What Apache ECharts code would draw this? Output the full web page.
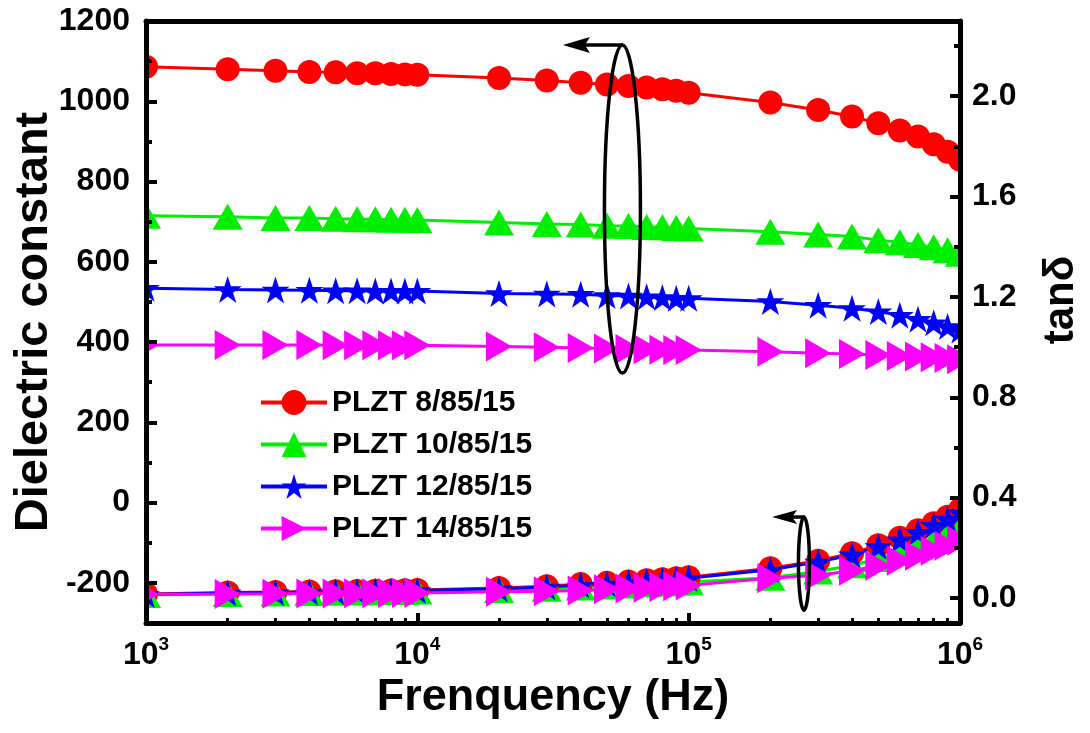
<!DOCTYPE html>
<html><head><meta charset="utf-8">
<script src="https://cdn.jsdelivr.net/npm/echarts@6/dist/echarts.min.js"></script>
<style>html,body{margin:0;padding:0;background:#fff}#c{width:1090px;height:733px}</style>
</head><body><div id="c"></div>
<script>
// ---------- data ----------
const freqs = [1e3,2e3,3e3,4e3,5e3,6e3,7e3,8e3,9e3,1e4,2e4,3e4,4e4,5e4,6e4,7e4,8e4,9e4,1e5,2e5,3e5,4e5,5e5,6e5,7e5,8e5,9e5,1e6];
const seriesNames = ['PLZT 8/85/15','PLZT 10/85/15','PLZT 12/85/15','PLZT 14/85/15'];
const eps8  = [1086,1080,1076,1073,1072,1070,1070,1068,1067,1066,1058,1052,1046,1042,1038,1034,1030,1026,1021,997,978,962,945,927,912,893,874,854];
const eps10 = [715,712,709,709,707,706,706,705,705,704,698,694,693,690,689,687,686,684,683,675,668,663,654,649,642,636,629,620];
const eps12 = [534,531,530,529,528,528,527,527,527,527,521,520,519,516,515,513,511,509,509,501,492,484,476,467,457,448,439,430];
const eps14 = [393,393,393,393,392,392,392,392,392,392,389,387,385,384,383,382,381,380,380,376,372,370,368,365,364,362,360,357];
const tan8  = [0.016,0.022,0.024,0.026,0.027,0.028,0.029,0.030,0.031,0.032,0.040,0.047,0.055,0.060,0.065,0.070,0.074,0.078,0.082,0.118,0.148,0.178,0.210,0.240,0.270,0.298,0.324,0.352];
const tan10 = [0.012,0.016,0.018,0.020,0.021,0.022,0.023,0.024,0.025,0.026,0.032,0.037,0.042,0.046,0.050,0.054,0.057,0.060,0.063,0.080,0.105,0.130,0.155,0.180,0.205,0.228,0.252,0.276];
const tan12 = [0.014,0.020,0.022,0.024,0.025,0.026,0.027,0.028,0.029,0.030,0.037,0.044,0.051,0.056,0.061,0.066,0.070,0.074,0.078,0.112,0.143,0.172,0.205,0.232,0.262,0.290,0.315,0.342];
const tan14 = [0.015,0.016,0.017,0.018,0.018,0.019,0.019,0.020,0.020,0.020,0.025,0.027,0.030,0.035,0.038,0.041,0.044,0.047,0.050,0.078,0.090,0.108,0.128,0.148,0.168,0.188,0.208,0.228];
const epsLabelTicks = [-200,0,200,400,600,800,1000,1200];
const epsMinorTicks = [-100,100,300,500,700,900,1100];
const tanLabelTicks = [0,0.4,0.8,1.2,1.6,2.0];
const tanMinorTicks = [0.2,0.6,1.0,1.4,1.8,2.2];
const freqMinorTicks = [2e3,3e3,4e3,5e3,6e3,7e3,8e3,9e3,2e4,3e4,4e4,5e4,6e4,7e4,8e4,9e4,2e5,3e5,4e5,5e5,6e5,7e5,8e5,9e5];
// annotation anchors (data space, left axis): centre frequency, top, bottom, arrow tip frequency
const annotFreq = [5.7e4, 2.66e5];
const annotTop = [1140, -36];
const annotBottom = [323, -268];
const annotTipFreq = [3.44e4, 2.03e5];

// ---------- style ----------
const FONT = "'Liberation Sans', Arial, Helvetica, sans-serif";
const colors = ['#ff0000','#00ee00','#0000ff','#ff00ff'];
const STAR = 'path://M50 0 L61.23 34.55 L97.55 34.55 L68.16 55.9 L79.39 90.45 L50 69.1 L20.61 90.45 L31.84 55.9 L2.45 34.55 L38.77 34.55 Z';
const symbols = ['circle','triangle',STAR,'triangle'];
const symSizes = [24,[30,26],[28,27],[30,26]];
const symRot = [0,0,0,-90];
const G = {left:146, right:130, top:21, bottom:110};

const epsData = [eps8,eps10,eps12,eps14];
const tanData = [tan8,tan10,tan12,tan14];
const series = [];
[epsData, tanData].forEach((set, yi) => {
  set.forEach((vals, i) => {
    series.push({
      type:'line', name: seriesNames[i], xAxisIndex:0, yAxisIndex: yi,
      data: freqs.map((f, j) => [f, vals[j]]),
      symbol: symbols[i], symbolSize: symSizes[i], symbolRotate: symRot[i],
      showAllSymbol: true,
      itemStyle:{color: colors[i], borderWidth:0},
      lineStyle:{color: colors[i], width:3},
      emphasis:{disabled:true}, z: 2
    });
  });
});

const labelStyle = {color:'#000', fontFamily:FONT, fontWeight:'bold', fontSize:32};
const nameStyle = {color:'#000', fontFamily:FONT, fontWeight:'bold'};

const option = {
  animation:false,
  backgroundColor:'#fff',
  grid:{left:G.left, right:G.right, top:G.top, bottom:G.bottom, containLabel:false, outerBoundsMode:'none'},
  legend:{
    data: seriesNames, orient:'vertical', left:254, top:382, itemGap:11,
    itemWidth:66, itemHeight:31, z: 30, lineStyle:{width:4},
    textStyle:{color:'#000', fontFamily:FONT, fontWeight:'bold', fontSize:30, lineHeight:31}
  },
  xAxis:[
    {type:'log', logBase:10, min:1e3, max:1e6, position:'bottom', z:10,
     axisLine:{show:true, onZero:false, lineStyle:{color:'#000', width:5}},
     axisTick:{show:true, inside:true, length:10, lineStyle:{color:'#000', width:4}},
     axisLabel:{margin:12, formatter: v => '{b|10}{s|' + Math.round(Math.log10(v)) + '}',
       rich:{b:{...labelStyle, fontSize:32, lineHeight:40}, s:{...labelStyle, fontSize:19, verticalAlign:'top', lineHeight:22}}},
     splitLine:{show:false},
     name:'Frenquency (Hz)', nameLocation:'middle', nameGap:52, nameMoveOverlap:false,
     nameTextStyle:{...nameStyle, fontSize:45}},
    {type:'log', logBase:10, min:1e3, max:1e6, position:'bottom', z:10,
     axisLine:{show:false, onZero:false}, axisLabel:{show:false}, splitLine:{show:false},
     axisTick:{show:true, inside:true, length:5, customValues: freqMinorTicks, lineStyle:{color:'#000', width:3}}},
    {type:'log', logBase:10, min:1e3, max:1e6, position:'top', z:10,
     axisLine:{show:true, onZero:false, lineStyle:{color:'#000', width:5}},
     axisTick:{show:false}, axisLabel:{show:false}, splitLine:{show:false}}
  ],
  yAxis:[
    {type:'value', min:-300, max:1200, position:'left', z:10,
     axisLine:{show:true, onZero:false, lineStyle:{color:'#000', width:5}},
     axisTick:{show:true, inside:true, length:11, customValues: epsLabelTicks, lineStyle:{color:'#000', width:4}},
     axisLabel:{...labelStyle, margin:16, customValues: epsLabelTicks, formatter: v => String(Math.round(v))},
     splitLine:{show:false},
     name:'Dielectric constant', nameLocation:'middle', nameRotate:90, nameGap:88, nameMoveOverlap:false,
     nameTextStyle:{...nameStyle, fontSize:47}},
    {type:'value', min:-0.1, max:2.3, position:'right', z:10,
     axisLine:{show:true, onZero:false, lineStyle:{color:'#000', width:5}},
     axisTick:{show:true, inside:true, length:10, customValues: tanLabelTicks, lineStyle:{color:'#000', width:4}},
     axisLabel:{...labelStyle, margin:12, customValues: tanLabelTicks, formatter: v => (+v).toFixed(1)},
     splitLine:{show:false},
     name:'tanδ', nameLocation:'middle', nameRotate:90, nameGap:80, nameMoveOverlap:false,
     nameTextStyle:{...nameStyle, fontSize:42, padding:[0,0,0,44]}},
    {type:'value', min:-300, max:1200, position:'left', z:10,
     axisLine:{show:false, onZero:false}, axisLabel:{show:false}, splitLine:{show:false},
     axisTick:{show:true, inside:true, length:6, customValues: epsMinorTicks, lineStyle:{color:'#000', width:4}}},
    {type:'value', min:-0.1, max:2.3, position:'right', z:10,
     axisLine:{show:false, onZero:false}, axisLabel:{show:false}, splitLine:{show:false},
     axisTick:{show:true, inside:true, length:6, customValues: tanMinorTicks, lineStyle:{color:'#000', width:4}}}
  ],
  series: series
};

const chart = echarts.init(document.getElementById('c'), null, {renderer:'canvas'});
chart.setOption(option);

// masks to clip markers outside the plot area (below axes)
const W = 1090, H = 733;
const gx0 = G.left, gx1 = W - G.right, gy0 = G.top, gy1 = H - G.bottom;
const graphics = [
  {type:'rect', z:5, shape:{x:0, y:0, width:gx0, height:H}, style:{fill:'#fff'}, silent:true},
  {type:'rect', z:5, shape:{x:gx1, y:0, width:W-gx1, height:H}, style:{fill:'#fff'}, silent:true},
  {type:'rect', z:5, shape:{x:0, y:0, width:W, height:gy0}, style:{fill:'#fff'}, silent:true},
  {type:'rect', z:5, shape:{x:0, y:gy1, width:W, height:H-gy1}, style:{fill:'#fff'}, silent:true}
];
const ellRx = [18, 5.5];
annotFreq.forEach((f, k) => {
  const pTop = chart.convertToPixel({xAxisIndex:0, yAxisIndex:0}, [f, annotTop[k]]);
  const pBot = chart.convertToPixel({xAxisIndex:0, yAxisIndex:0}, [f, annotBottom[k]]);
  const pTip = chart.convertToPixel({xAxisIndex:0, yAxisIndex:0}, [annotTipFreq[k], annotTop[k]]);
  const cx = pTop[0], cy = (pTop[1] + pBot[1]) / 2, ry = (pBot[1] - pTop[1]) / 2;
  const tx = pTip[0], ty = pTop[1];
  const L = k === 0 ? 27 : 25, hh = k === 0 ? 8 : 7;
  graphics.push({type:'ellipse', z:40, shape:{cx:cx, cy:cy, rx:ellRx[k], ry:ry}, style:{fill:'none', stroke:'#000', lineWidth:3.5}, silent:true});
  graphics.push({type:'line', z:40, shape:{x1:cx, y1:ty, x2:tx + L - 6, y2:ty}, style:{stroke:'#000', lineWidth:3.5}, silent:true});
  graphics.push({type:'polygon', z:40, shape:{points:[[tx, ty],[tx + L, ty - hh],[tx + L - 5, ty],[tx + L, ty + hh]]}, style:{fill:'#000'}, silent:true});
});
chart.setOption({graphic: graphics});
</script>
</body></html>
